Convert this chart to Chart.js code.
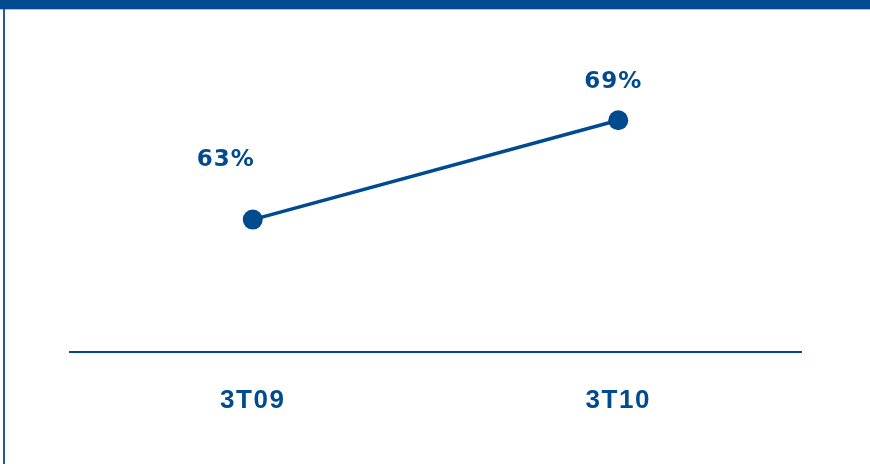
<!DOCTYPE html>
<html>
<head>
<meta charset="utf-8">
<script src="https://cdn.jsdelivr.net/npm/chart.js@4/dist/chart.umd.min.js"></script>
<style>
  html, body { margin: 0; padding: 0; background: #fff; }
  #wrap { position: relative; width: 870px; height: 464px; overflow: hidden; }
  #topbar { position: absolute; left: 0; top: 0; width: 870px; height: 9px; background: #004a8f; border-bottom: 1px solid #a9c6e6; }
  #leftbar { position: absolute; left: 3px; top: 9px; width: 2px; height: 455px; background: #1f5c9e; }
  canvas { position: absolute; left: 0; top: 0; }
</style>
</head>
<body>
<div id="wrap">
  <div id="topbar"></div>
  <div id="leftbar"></div>
  <canvas id="chart" width="870" height="464"></canvas>
</div>
<script>
const periods = ['3T09', '3T10'];
const shares = [63, 69];

const blue = '#004a8f';

// where each value label sits relative to its point
const labelOffsets = [[-27, -60], [-5, -38]];

const valueLabels = {
    id: 'valueLabels',
    beforeDraw: (chart) => {
        chart.ctx.letterSpacing = '1.5px';
    },
    afterDatasetsDraw: (chart) => {
        const ctx = chart.ctx;
        const meta = chart.getDatasetMeta(0);
        ctx.save();
        ctx.letterSpacing = '1px';
        ctx.font = "bold 23px 'DejaVu Sans'";
        ctx.fillStyle = blue;
        ctx.textAlign = 'center';
        ctx.textBaseline = 'middle';
        meta.data.forEach((pt, i) => {
            const off = labelOffsets[i];
            ctx.fillText(shares[i] + '%', pt.x + off[0], pt.y + off[1]);
        });
        ctx.restore();
    }
};

new Chart(document.getElementById('chart'), {
    type: 'line',
    data: {
        labels: periods,
        datasets: [{
            data: shares,
            borderColor: blue,
            borderWidth: 3.5,
            pointRadius: 10,
            pointHoverRadius: 10,
            pointBackgroundColor: blue,
            pointBorderColor: blue,
            pointBorderWidth: 0,
            clip: false
        }]
    },
    options: {
        responsive: false,
        animation: false,
        events: [],
        layout: {
            padding: { left: 70, right: 69, top: 21, bottom: 0 }
        },
        scales: {
            x: {
                offset: true,
                grid: { display: false, drawTicks: false },
                border: { display: true, color: blue, width: 2 },
                ticks: {
                    color: blue,
                    padding: 33,
                    font: { family: "'Liberation Sans'", size: 26, weight: 'bold' }
                },
                afterFit: (scale) => { scale.height = 112; }
            },
            y: {
                display: false,
                min: 55,
                max: 75
            }
        },
        plugins: {
            legend: { display: false },
            tooltip: { enabled: false }
        }
    },
    plugins: [valueLabels]
});
</script>
</body>
</html>
